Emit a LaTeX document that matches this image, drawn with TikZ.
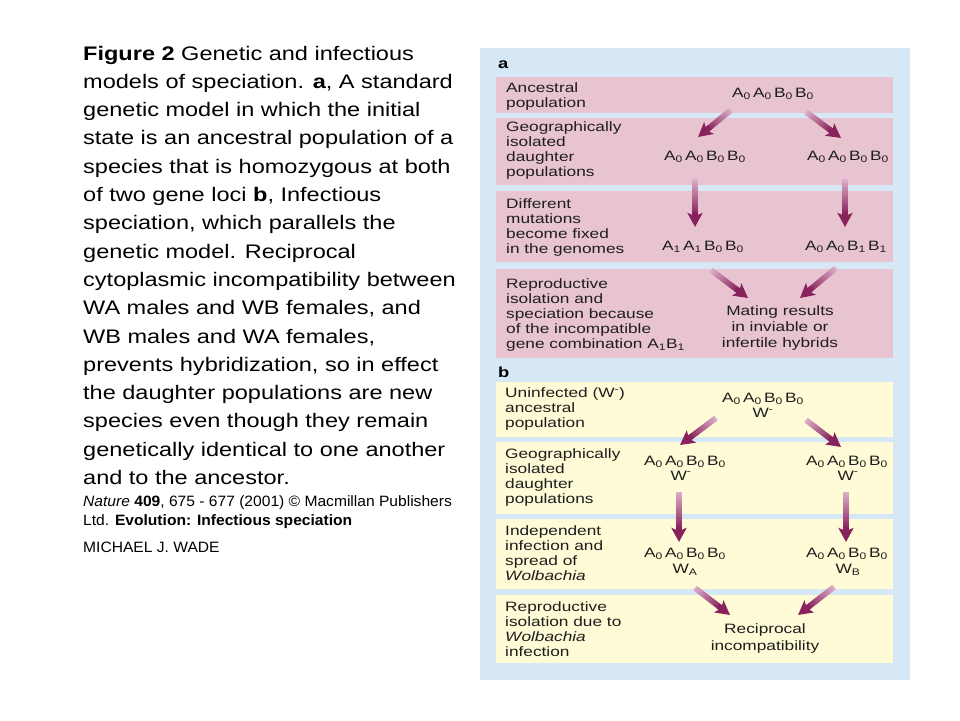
\documentclass[tikz,border=0pt]{standalone}
\usepackage{fontspec}
\usetikzlibrary{arrows.meta,calc}
\newfontfamily\capfont{Liberation Sans}[FakeStretch=1.2]
\newfontfamily\smfont{Liberation Sans}[FakeStretch=1.04]
\newfontfamily\panfont{Liberation Sans}[FakeStretch=1.27]
\definecolor{bluebg}{RGB}{214,232,246}
\definecolor{pinkrow}{RGB}{232,196,208}
\definecolor{yellowrow}{RGB}{254,251,214}
\definecolor{arrowdark}{RGB}{136,34,92}
\definecolor{arrowtail}{RGB}{224,178,202}
\definecolor{pantext}{RGB}{30,30,30}
\newcommand\gt[4]{A\textsubscript{#1}\,A\textsubscript{#2}\,B\textsubscript{#3}\,B\textsubscript{#4}}
\newcommand\gradarrow[2]{%
  \coordinate (ga-end) at ($(#2)!12pt!(#1)$);
  \foreach \ii in {0,...,23}{%
    \pgfmathsetmacro\ta{\ii/24}%
    \pgfmathsetmacro\tb{min((\ii+1.7)/24,1)}%
    \pgfmathtruncatemacro\pc{100*(\ii+1)/24}%
    \draw[line width=5.5pt, arrowdark!\pc!arrowtail] ($(#1)!\ta!(ga-end)$) -- ($(#1)!\tb!(ga-end)$);
  }
  \draw[arrowdark, line width=5.5pt, -{Stealth[length=14pt,width=15pt,inset=3pt]}] ($(#2)!15pt!(#1)$) -- (#2);
}
\tikzset{
  capline/.style={anchor=base west, inner sep=0pt, font=\capfont\fontsize{19.6}{24}\selectfont, text=black},
  smline/.style={anchor=base west, inner sep=0pt, font=\smfont\fontsize{15}{18}\selectfont, text=black},
  plab/.style={anchor=base west, inner sep=0pt, font=\panfont\fontsize{13.6}{15}\selectfont, text=pantext},
  pgen/.style={anchor=base, inner sep=0pt, font=\panfont\fontsize{13.6}{15}\selectfont, text=pantext},
  pletter/.style={anchor=base west, inner sep=0pt, font=\panfont\bfseries\fontsize{14.5}{15}\selectfont, text=black},
}
\begin{document}
\begin{tikzpicture}[x=1pt,y=-1pt]
\useasboundingbox (0,0) rectangle (960,720);
\fill[white] (0,0) rectangle (960,720);
% caption
\foreach \t [count=\i] in {
 {\textbf{Figure 2} Genetic and infectious},
 {models of speciation. \textbf{a}, A standard},
 {genetic model in which the initial},
 {state is an ancestral population of a},
 {species that is homozygous at both},
 {of two gene loci \textbf{b}, Infectious},
 {speciation, which parallels the},
 {genetic model. Reciprocal},
 {cytoplasmic incompatibility between},
 {WA males and WB females, and},
 {WB males and WA females,},
 {prevents hybridization, so in effect},
 {the daughter populations are new},
 {species even though they remain},
 {genetically identical to one another},
 {and to the ancestor.}}
 \node[capline] (cap\i) at (83,{60+(\i-1)*28.3}) {\t};
\node[smline] (ref1) at (83,506) {\textit{Nature} \textbf{409}, 675 - 677 (2001) © Macmillan Publishers};
\node[smline] (ref2) at (83,525) {Ltd. \textbf{Evolution: Infectious speciation}};
\node[smline] (author) at (83,552) {MICHAEL J. WADE};
% panel
\fill[bluebg] (480,48) rectangle (910,680);
\fill[pinkrow] (496,77) rectangle (893,113);
\fill[pinkrow] (496,118) rectangle (893,185);
\fill[pinkrow] (496,191) rectangle (893,262);
\fill[pinkrow] (496,269) rectangle (893,358);
\fill[yellowrow] (496,382) rectangle (893,437);
\fill[yellowrow] (496,442) rectangle (893,514);
\fill[yellowrow] (496,519) rectangle (893,589);
\fill[yellowrow] (496,595) rectangle (893,663);
\node[pletter] (la) at (498,68) {a};
\node[pletter] (lb) at (498,377) {b};
% panel a labels
\foreach \t [count=\i] in {Ancestral,population}
  \node[plab] (a1l\i) at (506,{92.5+(\i-1)*15}) {\t};
\foreach \t [count=\i] in {Geographically,isolated,daughter,populations}
  \node[plab] (a2l\i) at (506,{131.7+(\i-1)*15}) {\t};
\foreach \t [count=\i] in {Different,mutations,become fixed,in the genomes}
  \node[plab] (a3l\i) at (506,{208.3+(\i-1)*15}) {\t};
\foreach \t [count=\i] in {Reproductive,isolation and,speciation because,of the incompatible,{gene combination A\textsubscript{1}B\textsubscript{1}}}
  \node[plab] (a4l\i) at (506,{288.3+(\i-1)*15}) {\t};
% panel a genotypes
\node[pgen] (ga0) at (773,97.5) {\gt0000};
\node[pgen] (ga1) at (705,160) {\gt0000};
\node[pgen] (ga2) at (848,160) {\gt0000};
\node[pgen] (ga3) at (703,250) {\gt1100};
\node[pgen] (ga4) at (846,250) {\gt0011};
\node[pgen] (ma1) at (780,315) {Mating results};
\node[pgen] (ma2) at (780,331.5) {in inviable or};
\node[pgen] (ma3) at (780,347.5) {infertile hybrids};
% panel b labels
\foreach \t [count=\i] in {{Uninfected (W\textsuperscript{-})},ancestral,population}
  \node[plab] (b1l\i) at (505,{397.3+(\i-1)*15}) {\t};
\foreach \t [count=\i] in {Geographically,isolated,daughter,populations}
  \node[plab] (b2l\i) at (505,{458.3+(\i-1)*15}) {\t};
\foreach \t [count=\i] in {Independent,infection and,spread of,\textit{Wolbachia}}
  \node[plab] (b3l\i) at (505,{535+(\i-1)*15}) {\t};
\foreach \t [count=\i] in {Reproductive,isolation due to,\textit{Wolbachia},infection}
  \node[plab] (b4l\i) at (505,{611+(\i-1)*15}) {\t};
% panel b genotypes
\node[pgen] (gb0) at (763,402.3) {\gt0000};
\node[pgen] (wb0) at (763,417.7) {W\textsuperscript{-}};
\node[pgen] (gb1) at (685,465) {\gt0000};
\node[pgen] (wb1) at (681,480) {W\textsuperscript{-}};
\node[pgen] (gb2) at (847,465) {\gt0000};
\node[pgen] (wb2) at (848,480) {W\textsuperscript{-}};
\node[pgen] (gb3) at (685,557.7) {\gt0000};
\node[pgen] (wb3) at (685,573.3) {W\textsubscript{A}};
\node[pgen] (gb4) at (847,557.7) {\gt0000};
\node[pgen] (wb4) at (848,573.3) {W\textsubscript{B}};
\node[pgen] (rc1) at (765,633.3) {Reciprocal};
\node[pgen] (rc2) at (765,650) {incompatibility};
% arrow end points
\coordinate (a1s) at (731,110); \coordinate (a1e) at (698,137);
\coordinate (a2s) at (806,112); \coordinate (a2e) at (841,138);
\coordinate (a3s) at (695,179); \coordinate (a3e) at (695,227);
\coordinate (a4s) at (845,179); \coordinate (a4e) at (845,227);
\coordinate (a5s) at (711,270); \coordinate (a5e) at (748,298);
\coordinate (a6s) at (836,268); \coordinate (a6e) at (800,298);
\coordinate (b1s) at (716,418); \coordinate (b1e) at (680,445);
\coordinate (b2s) at (806,420); \coordinate (b2e) at (841,447);
\coordinate (b3s) at (679,492); \coordinate (b3e) at (679,542);
\coordinate (b4s) at (846,492); \coordinate (b4e) at (846,542);
\coordinate (b5s) at (695,588); \coordinate (b5e) at (730,615);
\coordinate (b6s) at (834,587); \coordinate (b6e) at (798,615);
\gradarrow{a1s}{a1e}
\gradarrow{a2s}{a2e}
\gradarrow{a3s}{a3e}
\gradarrow{a4s}{a4e}
\gradarrow{a5s}{a5e}
\gradarrow{a6s}{a6e}
\gradarrow{b1s}{b1e}
\gradarrow{b2s}{b2e}
\gradarrow{b3s}{b3e}
\gradarrow{b4s}{b4e}
\gradarrow{b5s}{b5e}
\gradarrow{b6s}{b6e}
\end{tikzpicture}
\end{document}
